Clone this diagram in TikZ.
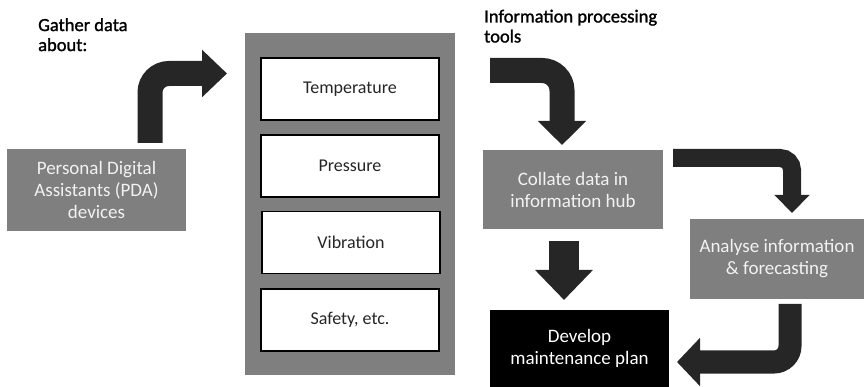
\documentclass[tikz,border=0pt]{standalone}
\usepackage{fontspec}
\setmainfont{Carlito}
\newfontfamily\headfont{Carlito}[FakeBold=1.3]
\usetikzlibrary{arrows.meta}

\definecolor{boxgray}{HTML}{7F7F7F}
\definecolor{arrowdark}{HTML}{262626}
\definecolor{boxtext}{HTML}{F2F2F2}

\begin{document}
\begin{tikzpicture}[x=1pt, y=-1pt,
    graybox/.style={fill=boxgray, text=boxtext, align=center, inner sep=0pt, outer sep=0pt,
        font=\fontsize{19}{22}\selectfont},
    itembox/.style={draw=black, line width=1.8pt, fill=white, text=arrowdark, inner sep=0pt, outer sep=0pt,
        minimum width=178pt, minimum height=62pt, font=\fontsize{18}{21.5}\selectfont},
    heading/.style={anchor=north west, align=left, inner sep=0pt, text=black, font=\headfont\fontsize{18.5}{20}\selectfont},
    bigarrow/.style={draw=arrowdark, rounded corners=#1},
    bigarrow/.default=14pt
]
    % --- 画布 ---
    \useasboundingbox (0,0) rectangle (865,387);

    % --- 标题文字 ---
    \node[heading] (gather) at (38,18) {Gather data\\about:};
    \node[heading] (tools) at (484,9.5) {Information processing\\tools};

    % --- 左侧: PDA ---
    \node[graybox, minimum width=179pt, minimum height=82pt] (pda) at (96.5,190) {Personal Digital\\Assistants (PDA)\\devices};

    % --- 中间: 数据面板 ---
    \node[fill=boxgray, minimum width=210pt, minimum height=342pt, inner sep=0pt] (panel) at (350,204) {};
    \node[itembox] (temp)  at (350,89)  {Temperature};
    \node[itembox] (press) at (350,166) {Pressure};
    \node[itembox] (vib)   at (351,242.5) {Vibration};
    \node[itembox] (safe)  at (350,320) {Safety, etc.};

    % --- 右侧: 信息处理 ---
    \node[graybox, minimum width=180pt, minimum height=79pt] (hub) at (573,189.5) {Collate data in\\information hub};
    \node[graybox, minimum width=174pt, minimum height=80pt] (analyse) at (777,259) {Analyse information\\\& forecasting};
    \node[graybox, fill=black, text=white, minimum width=179pt, minimum height=77pt] (plan) at (579.5,348.5) {Develop\\maintenance plan};

    % --- 箭头 ---
    \coordinate (a1end) at (227,73.5);
    \coordinate (a2start) at (490,70.5);

    % PDA -> 面板
    \draw[bigarrow=19pt, line width=25pt, -{Triangle[length=25pt, width=46pt]}]
        ([xshift=53.5pt, yshift=6pt]pda.north) |- (a1end);
    % 工具 -> hub
    \draw[bigarrow=20pt, line width=25pt, -{Triangle[length=24pt, width=47pt]}]
        (a2start) -| ([xshift=-11pt, yshift=5pt]hub.north);
    % hub -> analyse
    \draw[bigarrow=12pt, line width=18pt, -{Triangle[length=18pt, width=34pt]}]
        ([xshift=10pt, yshift=-8pt]hub.north east) -| ([xshift=15pt, yshift=6pt]analyse.north);
    % analyse -> plan
    \draw[bigarrow=16pt, line width=23pt, -{Triangle[length=23pt, width=47pt]}]
        ([xshift=13pt, yshift=-5pt]analyse.south) |- ([xshift=8pt, yshift=-13.5pt]plan.east);
    % hub -> plan
    \coordinate (a5start) at ([xshift=-9pt, yshift=-12pt]hub.south);
    \coordinate (a5end) at ([xshift=-15.5pt, yshift=10pt]plan.north);
    \draw[bigarrow=0pt, line width=30pt, -{Triangle[length=30pt, width=56pt]}]
        (a5start) -- (a5end);

\end{tikzpicture}
\end{document}
